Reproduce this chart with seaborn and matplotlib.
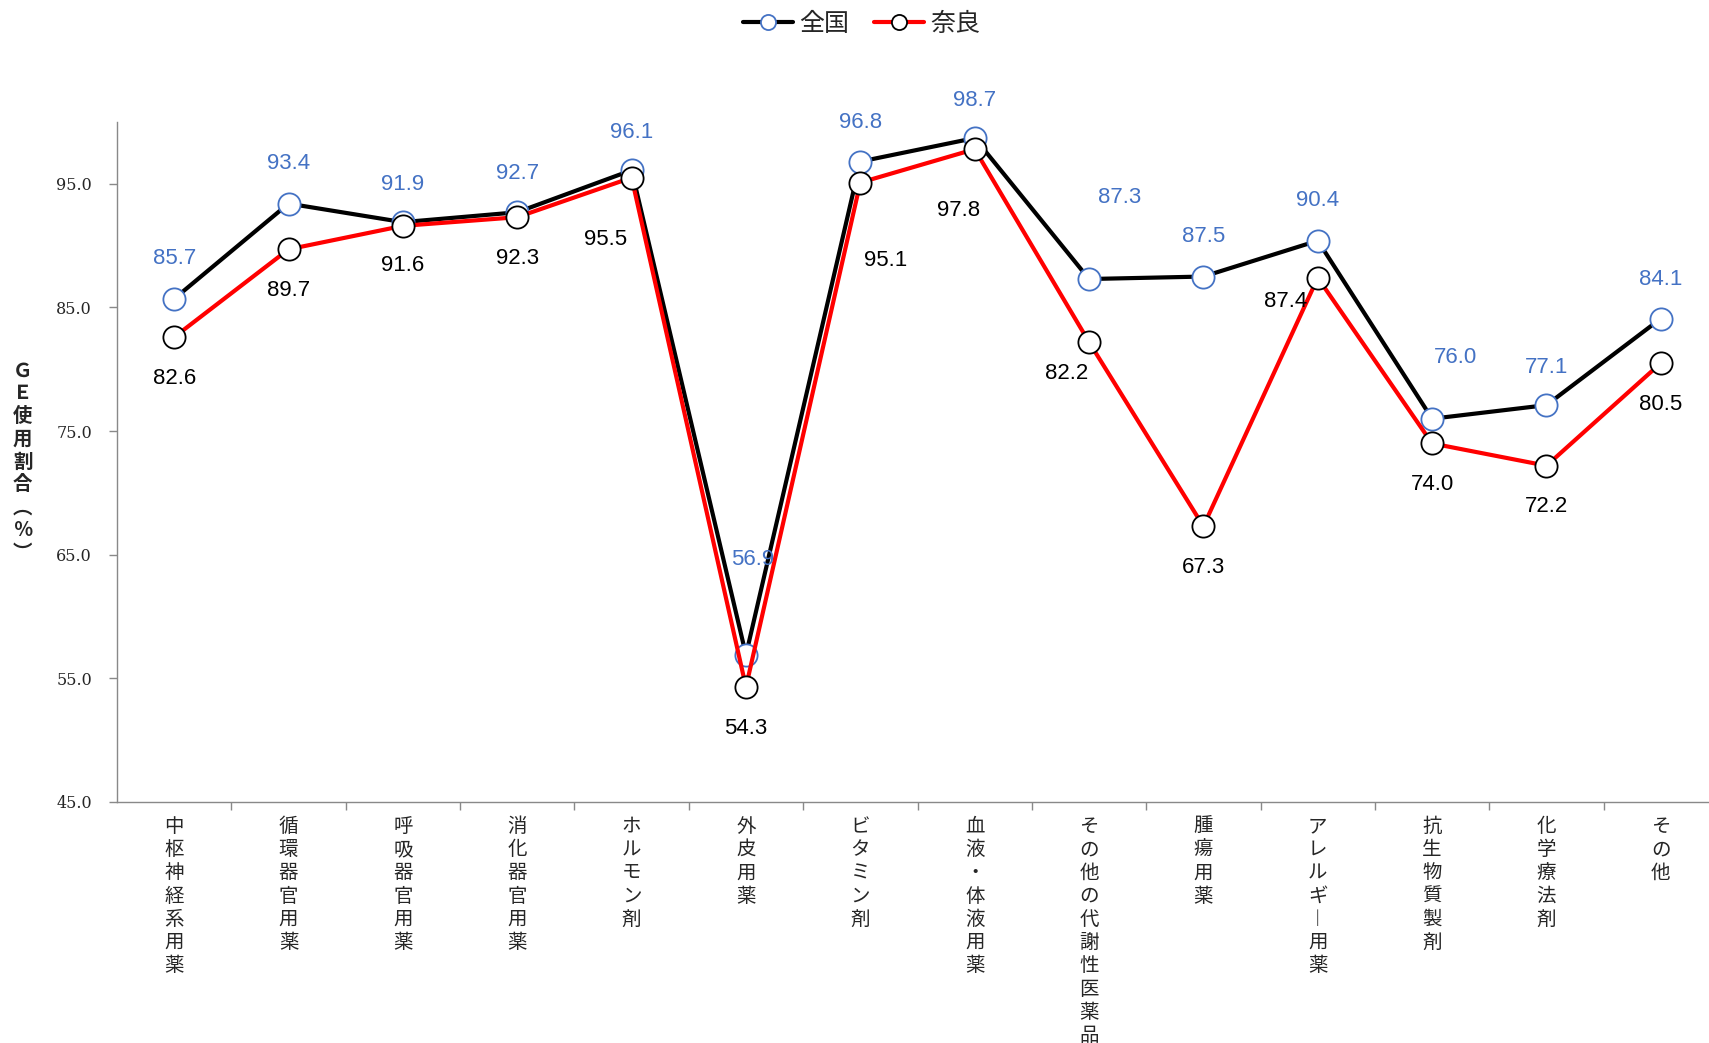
import numpy as np
import matplotlib
matplotlib.use("Agg")
import matplotlib.pyplot as plt
import seaborn as sns

# data
categories = ['中枢神経系用薬', '循環器官用薬', '呼吸器官用薬', '消化器官用薬', 'ホルモン剤',
              '外皮用薬', 'ビタミン剤', '血液・体液用薬', 'その他の代謝性医薬品', '腫瘍用薬',
              'アレルギ︱用薬', '抗生物質製剤', '化学療法剤', 'その他']
zenkoku = [85.7, 93.4, 91.9, 92.7, 96.1, 56.9, 96.8, 98.7, 87.3, 87.5, 90.4, 76.0, 77.1, 84.1]
nara = [82.6, 89.7, 91.6, 92.3, 95.5, 54.3, 95.1, 97.8, 82.2, 67.3, 87.4, 74.0, 72.2, 80.5]
series_names = ['全国', '奈良']
y_ticks = [45.0, 55.0, 65.0, 75.0, 85.0, 95.0]
ylabel = 'ＧＥ使用割合︵％︶'

# label offsets (pixels), hand placed like the original
off_zen = [(0, 40), (0, 40), (0, 38), (0, 39), (0, 38), (7, 95), (0, 39), (0, 38),
           (31, 82), (0, 40), (0, 40), (23, 61), (0, 38), (0, 39)]
off_nara = [(0, -41), (0, -41), (0, -40), (0, -41), (-26, -62), (0, -41), (25, -78),
            (-16, -61), (-22, -31), (0, -41), (-32, -24), (0, -41), (0, -41), (0, -41)]

sns.set_style("white")
plt.rcParams['font.family'] = ['Noto Sans CJK JP', 'DejaVu Sans']

BLUE = '#4472C4'
GRID = '#898989'

fig = plt.figure(figsize=(17.09, 10.43), dpi=100)
ax = fig.add_axes([117 / 1709, 1 - 802 / 1043, 1601 / 1709, 680 / 1043])

pos = np.arange(len(categories))
sns.lineplot(x=pos, y=zenkoku, color='black', lw=3, marker='o', markersize=16,
             markerfacecolor='white', markeredgecolor=BLUE, markeredgewidth=1.3,
             label=series_names[0], ax=ax)
sns.lineplot(x=pos, y=nara, color='#FF0000', lw=3, marker='o', markersize=16,
             markerfacecolor='white', markeredgecolor='black', markeredgewidth=1.3,
             label=series_names[1], ax=ax)

for i in range(len(categories)):
    ax.annotate(f'{zenkoku[i]:.1f}', (pos[i], zenkoku[i]), xytext=off_zen[i],
                textcoords='offset pixels', ha='center', va='center',
                color=BLUE, fontsize=16, family='Liberation Sans')
    ax.annotate(f'{nara[i]:.1f}', (pos[i], nara[i]), xytext=off_nara[i],
                textcoords='offset pixels', ha='center', va='center',
                color='black', fontsize=16, family='Liberation Sans')

ax.set_xlim(-0.5, len(categories) - 0.5)
ax.set_ylim(45, 100)
ax.set_yticks(y_ticks)
ax.set_yticklabels([f'{v:.1f}' for v in y_ticks], family='DejaVu Serif', fontsize=11.5)
ax.tick_params(axis='y', length=6, width=1, color=GRID, pad=12, left=True)

ax.set_xticks(pos)
ax.set_xticklabels(['\n'.join(c) for c in categories],
                   fontsize=14, linespacing=1.14, va='top')
ax.set_xticks(pos[:-1] + 0.5, minor=True)
ax.tick_params(axis='x', which='major', length=0, pad=10)
ax.tick_params(axis='x', which='minor', length=6, width=1, color=GRID, bottom=True)

for s in ['top', 'right']:
    ax.spines[s].set_visible(False)
for s in ['left', 'bottom']:
    ax.spines[s].set_color(GRID)
    ax.spines[s].set_linewidth(1)

ax.set_ylabel('\n'.join(ylabel), rotation=0, fontsize=14, fontweight='bold',
              linespacing=1.25, va='center', ha='center')
ax.yaxis.set_label_coords(-0.059, 0.5)

handles, labels = ax.get_legend_handles_labels()
if ax.get_legend() is not None:
    ax.get_legend().remove()
fig.legend(handles, labels, loc='center', bbox_to_anchor=(0.504, 0.977), ncol=2,
           frameon=False, fontsize=18, markerscale=0.68, handlelength=2.0,
           columnspacing=1.0, handletextpad=0.25)

fig.savefig('out.png', dpi=100)
